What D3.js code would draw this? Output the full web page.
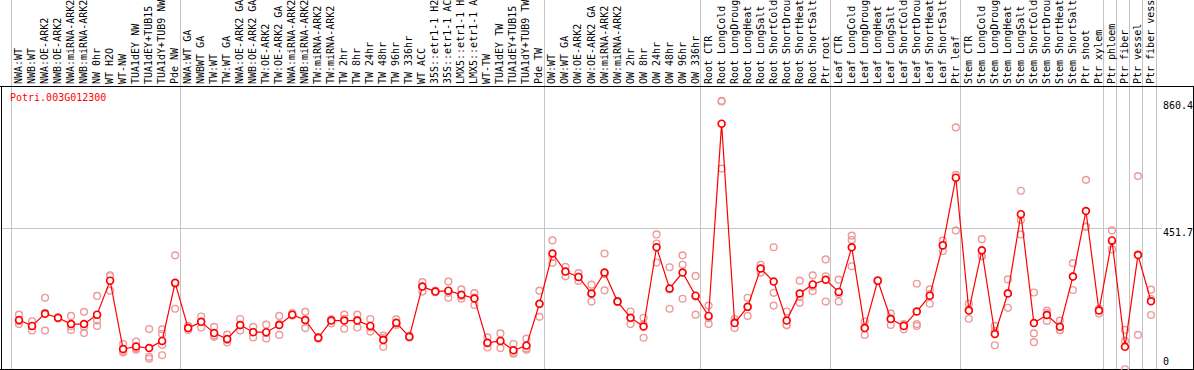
<!DOCTYPE html>
<html>
<head>
<meta charset="utf-8">
<script src="https://cdn.jsdelivr.net/npm/d3@7"></script>
<style>
  body { margin: 0; background: #fff; }
  text { font-family: "DejaVu Sans Mono", monospace; font-size: 10px; }
</style>
</head>
<body>
<div id="chart"></div>
<script>
// sample labels (cut to 14 chars like the original)
let labels = [
  "NWA:WT", "NWB:WT", "NWA:OE-ARK2", "NWB:OE-ARK2", "NWA:miRNA-ARK2", "NWB:miRNA-ARK2",
  "NW 0hr", "WT H2O", "WT-NW", "TUA1dEY NW", "TUA1dEY+TUB15", "TUA1dY+TUB9 NW", "Pde NW",
  "NWA:WT GA", "NWBWT GA", "TW:WT", "TW:WT GA", "NWA:OE-ARK2 GA", "NWB:OE-ARK2 GA",
  "TW:OE-ARK2", "TW:OE-ARK2 GA", "NWA:miRNA-ARK2", "NWB:miRNA-ARK2", "TW:miRNA-ARK2",
  "TW:miRNA-ARK2", "TW 2hr", "TW 8hr", "TW 24hr", "TW 48hr", "TW 96hr", "TW 336hr",
  "WT ACC", "35S::etr1-1 H2", "35S::etr1-1 AC", "LMX5::etr1-1 H", "LMX5::etr1-1 A",
  "WT-TW", "TUA1dEY TW", "TUA1dEY+TUB15", "TUA1dY+TUB9 TW", "Pde TW",
  "OW:WT", "OW:WT GA", "OW:OE-ARK2", "OW:OE-ARK2 GA", "OW:miRNA-ARK2", "OW:miRNA-ARK2",
  "OW 2hr", "OW 8hr", "OW 24hr", "OW 48hr", "OW 96hr", "OW 336hr",
  "Root CTR", "Root LongCold", "Root LongDroug", "Root LongHeat", "Root LongSalt",
  "Root ShortCold", "Root ShortDrou", "Root ShortHeat", "Root ShortSalt", "Ptr root",
  "Leaf CTR", "Leaf LongCold", "Leaf LongDroug", "Leaf LongHeat", "Leaf LongSalt",
  "Leaf ShortCold", "Leaf ShortDrou", "Leaf ShortHeat", "Leaf ShortSalt", "Ptr leaf",
  "Stem CTR", "Stem LongCold", "Stem LongDroug", "Stem LongHeat", "Stem LongSalt",
  "Stem ShortCold", "Stem ShortDrou", "Stem ShortHeat", "Stem ShortSalt", "Ptr shoot",
  "Ptr xylem", "Ptr phloem", "Ptr fiber", "Ptr vessel", "Ptr fiber vess"
];

// index where each group of samples starts
let groupStarts = [0, 13, 41, 53, 63, 73, 84, 85, 86, 87, 88];

// mean expression per sample
let means = [
  158, 139, 178, 165, 145, 145, 175, 284, 65, 73, 68, 91, 277,
  132, 152, 116, 97, 142, 119, 119, 142, 175, 158, 101, 156, 156, 156, 139, 94, 149, 104,
  265, 249, 252, 239, 227, 85, 91, 61, 76, 210,
  371, 313, 296, 243, 310, 217, 165, 137, 391, 259, 310, 236,
  171, 787, 148, 200, 323, 281, 156, 243, 272, 287,
  248, 391, 132, 284, 161, 139, 185, 236, 397, 614,
  188, 381, 113, 243, 497, 148, 174, 136, 297, 507, 188,
  413, 72, 366, 218
];

// replicate values per sample
let replicates = [
  [175, 145, 154], [154, 124, 138], [229, 124, 181], [164, 166, 163], [171, 126, 138],
  [184, 116, 136], [235, 156, 139, 174], [301, 252, 299], [81, 54, 59], [89, 63, 67],
  [129, 40, 34], [128, 113, 78, 45], [365, 194, 273],
  [139, 126, 132], [169, 134, 152], [136, 104, 108], [111, 86, 94], [161, 124, 141],
  [136, 102, 120], [143, 99, 116], [171, 110, 145], [180, 172, 174], [184, 132, 158],
  [101, 98, 104], [160, 147, 160], [175, 130, 162], [175, 134, 158], [161, 121, 134],
  [108, 72, 100], [160, 146, 142], [104, 101, 108], [279, 249, 265], [249, 252, 247],
  [281, 229, 245], [256, 226, 234], [244, 206, 230], [102, 70, 83], [115, 68, 91],
  [81, 50, 53], [98, 63, 67], [252, 168, 209],
  [413, 341, 359], [328, 298, 313], [308, 283, 296], [271, 217, 241], [371, 253, 305],
  [217, 219, 215], [185, 145, 164], [165, 101, 144], [432, 342, 403], [327, 194, 256],
  [365, 335, 226], [299, 175, 233],
  [204, 145, 164], [860.4, 858, 643], [161, 132, 152], [229, 171, 200], [335, 310, 323],
  [391, 245, 204], [185, 142, 141], [284, 213, 232], [301, 250, 265], [352, 298, 217],
  [287, 217, 241], [428, 414, 330], [153, 110, 134], [284, 286, 282], [179, 142, 163],
  [145, 128, 143], [274, 145, 139], [256, 210, 241], [412, 379, 399], [775, 445, 623],
  [210, 162, 192], [417, 363, 362], [139, 77, 123], [288, 197, 244], [572, 432, 478],
  [246, 115, 87], [188, 155, 180], [156, 126, 125], [340, 254, 297], [607, 457, 456],
  [194, 179, 191],
  [445, 384, 410], [126, 91, 0], [619, 110, 368], [255, 174, 225]
];

let geneName = "Potri.003G012300";

//Step 1: Setup
let svgWidth = 1194;
let svgHeight = 370;
let plotTop = 86;
let plotBottom = 369.5;

let svg = d3.select('#chart')
  .append('svg')
  .attr('width', svgWidth)
  .attr('height', svgHeight)
  .style('display', 'block');

svg.append('rect')
  .attr('width', svgWidth)
  .attr('height', svgHeight)
  .attr('fill', '#fff');

//Step 2: Scales
let maxVal = d3.max(replicates, r => d3.max(r));
let yTop = maxVal * 1.05;

let xScale = d3.scaleBand()
  .domain(d3.range(labels.length))
  .range([10.5, 1155.5]);
let xPoint = i => xScale(i) + 8.5;

let yScale = d3.scaleLinear()
  .domain([0, yTop])
  .range([369.3, 87.3]);

//Step 3: Grid lines
let sepX = i => i < labels.length ? Math.round(xScale(i)) + 0.5 : Math.round(xScale.range()[1]) + 0.5;

svg.append('g')
  .selectAll('line')
  .data(groupStarts)
  .enter()
  .append('line')
  .attr('x1', d => sepX(d))
  .attr('x2', d => sepX(d))
  .attr('y1', 0)
  .attr('y2', plotBottom)
  .attr('stroke', '#c4c4c4')
  .attr('stroke-width', 1);

let midY = Math.round(yScale(yTop / 2)) + 0.5;
svg.append('line')
  .attr('x1', 2)
  .attr('x2', 1162)
  .attr('y1', midY)
  .attr('y2', midY)
  .attr('stroke', '#c4c4c4');

//Step 4: Frame
let frame = svg.append('g').attr('stroke', '#000').attr('stroke-width', 1);
frame.append('line').attr('x1', 0).attr('x2', svgWidth).attr('y1', plotTop + 0.5).attr('y2', plotTop + 0.5);
frame.append('line').attr('x1', 1.5).attr('x2', 1.5).attr('y1', plotTop).attr('y2', svgHeight);
frame.append('line').attr('x1', 1193.5).attr('x2', 1193.5).attr('y1', plotTop).attr('y2', svgHeight);
frame.append('line').attr('x1', 0).attr('x2', svgWidth).attr('y1', plotBottom).attr('y2', plotBottom);

//Step 5: Sample labels
svg.append('g')
  .selectAll('text')
  .data(labels)
  .enter()
  .append('text')
  .attr('transform', (d, i) => `translate(${xPoint(i) + 3},84) rotate(-90)`)
  .attr('fill', '#000')
  .text(d => d);

//Step 6: Value labels on the right
let valueLabels = [
  { v: maxVal, y: yScale(maxVal) + 8 },
  { v: yTop / 2, y: yScale(yTop / 2) + 8 },
  { v: 0, y: yScale(0) - 4 }
];
svg.append('g')
  .selectAll('text')
  .data(valueLabels)
  .enter()
  .append('text')
  .attr('x', 1163)
  .attr('y', d => d.y)
  .attr('fill', '#000')
  .text(d => d.v === 0 ? '0' : d.v.toFixed(1));

//Step 7: Gene name
svg.append('text')
  .attr('x', 10)
  .attr('y', 101)
  .attr('fill', '#ff0000')
  .text(geneName);

//Step 8: Replicate circles
let repPoints = [];
replicates.forEach((r, i) => r.forEach(v => repPoints.push({ i: i, v: v })));

svg.append('g')
  .selectAll('circle')
  .data(repPoints)
  .enter()
  .append('circle')
  .attr('cx', d => xPoint(d.i))
  .attr('cy', d => yScale(d.v))
  .attr('r', 3.4)
  .attr('fill', 'none')
  .attr('stroke', '#ec9a9a')
  .attr('stroke-width', 1.4);

//Step 9: Mean line and circles
let line = d3.line()
  .x((d, i) => xPoint(i))
  .y(d => yScale(d));

svg.append('path')
  .datum(means)
  .attr('d', line)
  .attr('fill', 'none')
  .attr('stroke', '#ff0000')
  .attr('stroke-width', 1.2);

svg.append('g')
  .selectAll('circle')
  .data(means)
  .enter()
  .append('circle')
  .attr('cx', (d, i) => xPoint(i))
  .attr('cy', d => yScale(d))
  .attr('r', 3.4)
  .attr('fill', '#fff')
  .attr('stroke', '#ff0000')
  .attr('stroke-width', 1.7);
</script>
</body>
</html>
